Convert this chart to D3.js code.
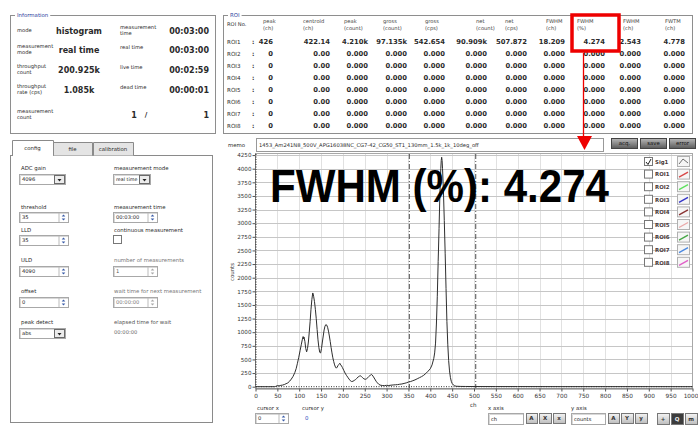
<!DOCTYPE html>
<html><head><meta charset="utf-8">
<script src="https://cdn.jsdelivr.net/npm/d3@7"></script>
<style>
html,body{margin:0;padding:0;background:#fff;overflow:hidden;}
svg{display:block;font-family:"DejaVu Sans",sans-serif;}
</style></head><body>
<svg id="c" width="698" height="428"></svg>
<script>
// ---------------- data ----------------
const channels = [0,10,20,30,40,44,46,50,54,58,
  62,66,70,74,78,82,86,90,93,96,
  99,102,105,107,109,110,111,113,115,117,
  119,121,123,125,127,129,131,132,133,135,
  137,139,141,143,145,147,149,151,153,155,
  157,159,161,163,165,167,169,171,173,175,
  177,179,181,183,185,187,189,191,193,195,
  197,199,202,205,208,211,214,217,220,223,
  226,229,232,235,238,240,242,245,248,251,
  254,257,260,263,265,267,270,273,276,279,
  282,285,290,295,300,305,310,315,320,325,
  330,335,340,345,350,355,360,365,370,375,
  380,385,390,395,400,404,408,410,412,414,
  416,418,420,422,424,425,426,427,428,430,
  432,434,436,438,440,442,444,446,448,450,
  453,456,460,470,480,500,550,600,700,800,
  900,1000];
const counts = [0,0,0,0,0,0,5,20,15,25,
  30,40,55,70,100,140,190,260,330,430,
  540,660,780,860,920,880,910,830,700,640,
  700,820,1000,1200,1420,1600,1720,1700,1660,1560,
  1420,1250,1050,860,720,630,620,700,820,930,
  1040,1110,1140,1130,1090,1020,930,830,720,620,
  530,460,400,360,340,360,390,410,430,400,
  380,350,300,250,210,175,140,110,95,100,
  115,130,155,180,195,200,190,165,145,135,
  145,165,190,215,225,215,180,140,100,70,
  45,30,22,20,25,22,28,32,35,38,
  45,50,60,70,85,95,110,125,145,165,
  185,210,245,285,330,400,520,620,800,1150,
  1650,2300,2900,3550,4000,4150,4210,4150,4000,3600,
  3050,2450,1800,1200,780,480,290,170,100,60,
  30,15,8,5,4,3,2,2,1,1,
  1,0];
const xTickValues = [0,50,100,150,200,250,300,350,400,450,500,550,600,650,700,750,800,850,900,950,1000];
const yTickValues = [0,250,500,750,1000,1250,1500,1750,2000,2250,2500,2750,3000,3250,3500,3750,4000,4250];
const roiBounds = [352, 504];
const cursorPos = [0, 0];

const infoLabels = [["mode"],["measurement","mode"],["throughput","count"],["throughput","rate (cps)"],["measurement","count"]];
const infoValues = ["histogram","real time","200.925k","1.085k",""];
const infoLabels2 = [["measurement","time"],["real time"],["live time"],["dead time"],[]];
const infoValues2 = ["00:03:00","00:03:00","00:02:59","00:00:01","1"];

const roiHeaders = [["peak","(ch)"],["centroid","(ch)"],["peak","(count)"],["gross","(count)"],["gross","(cps)"],["net","(count)"],["net","(cps)"],["FWHM","(ch)"],["FWHM","(%)"],["FWHM","(ch)"],["FWTM","(ch)"]];
const roiNames = ["ROI1","ROI2","ROI3","ROI4","ROI5","ROI6","ROI7","ROI8"];
const roi1Values = ["426","422.14","4.210k","97.135k","542.654","90.909k","507.872","18.209","4.274","2.543","4.778"];
const roiZeroValues = ["0","0.00","0.000","0.000","0.000","0.000","0.000","0.000","0.000","0.000","0.000"];

const legendNames = ["Sig1","ROI1","ROI2","ROI3","ROI4","ROI5","ROI6","ROI7","ROI8"];
const legendColors = ["#333333","#d84848","#5ee05e","#3434c8","#8a3434","#eaa8a8","#48a848","#4a88e0","#e060c8"];

const memoText = "1453_Am241N8_500V_APG16038NC_CG7-42_CG50_ST1_130mm_1.5k_1k_10deg_off";
const fwhmText = "FWHM (%): 4.274";

// ---------------- helpers ----------------
const svg = d3.select('#c');
const defs = svg.append('defs');
const gb = defs.append('linearGradient').attr('id','btn').attr('x1',0).attr('y1',0).attr('x2',0).attr('y2',1);
gb.append('stop').attr('offset','0%').attr('stop-color','#b8b8b8');
gb.append('stop').attr('offset','100%').attr('stop-color','#5a5a5a');
const gi = defs.append('linearGradient').attr('id','ico').attr('x1',0).attr('y1',0).attr('x2',0).attr('y2',1);
gi.append('stop').attr('offset','0%').attr('stop-color','#f4f4f4');
gi.append('stop').attr('offset','100%').attr('stop-color','#bdbdbd');

function txt(g, x, y, s, o = {}) {
  return g.append('text').attr('x', x).attr('y', y).attr('dy', '0.35em').text(s)
    .attr('font-size', o.size || 5.4)
    .attr('font-weight', o.bold ? 'bold' : 'normal')
    .attr('fill', o.fill || '#2a2a2a')
    .attr('text-anchor', o.anchor || 'start')
    .attr('font-family', o.family || null);
}
function groupBox(x, y, w, h, title) {
  svg.append('rect').attr('x', x + .5).attr('y', y + .5).attr('width', w).attr('height', h)
    .attr('fill', 'none').attr('stroke', '#8e8e8e');
  const bg = svg.append('rect').attr('fill', '#fff');
  const t = txt(svg, x + 7, y, title, {fill: '#2b3e9e', size: 5.4});
  const len = t.node().getComputedTextLength();
  bg.attr('x', x + 5).attr('y', y - 3).attr('width', len + 4).attr('height', 6);
}
function inputBox(x, y, w, h, val, kind, o = {}) {
  const g = svg.append('g');
  g.append('rect').attr('x', x + .5).attr('y', y + .5).attr('width', w).attr('height', h)
    .attr('fill', '#fff').attr('stroke', '#a8a8a8');
  g.append('path').attr('d', `M${x+1.5},${y+h}V${y+1.5}H${x+w}`).attr('fill','none').attr('stroke','#d8d8d8');
  txt(g, x + 3, y + h / 2 + .5, val, {size: o.size || 5.2, fill: o.fill || '#222'});
  if (kind === 'drop') {
    const bx = x + w - 11;
    g.append('rect').attr('x', bx + .5).attr('y', y + 1.5).attr('width', 10).attr('height', h - 2)
      .attr('fill', '#ececec').attr('stroke', '#6a6a6a');
    const cx = bx + 5.5, cy = y + h / 2 + 1;
    g.append('path').attr('d', `M${cx-2},${cy-1}L${cx+2},${cy-1}L${cx},${cy+1.5}Z`).attr('fill', '#222');
  } else if (kind === 'spin') {
    const bx = x + w - 9;
    g.append('line').attr('x1', bx).attr('x2', bx).attr('y1', y + 1).attr('y2', y + h).attr('stroke', '#bbb');
    const cx = bx + 4.5, cy = y + h / 2 + .5;
    const col = o.fill ? '#aaa' : '#3a5ca8';
    g.append('path').attr('d', `M${cx-1.8},${cy-1}L${cx+1.8},${cy-1}L${cx},${cy-3}Z`).attr('fill', col);
    g.append('path').attr('d', `M${cx-1.8},${cy+1}L${cx+1.8},${cy+1}L${cx},${cy+3}Z`).attr('fill', col);
  }
  return g;
}
function iconBtn(x, y, w, h, dark, glyph) {
  const g = svg.append('g');
  g.append('rect').attr('x', x + .5).attr('y', y + .5).attr('width', w).attr('height', h)
    .attr('fill', dark ? '#3c3c3c' : 'url(#ico)').attr('stroke', '#777');
  txt(g, x + w / 2, y + h / 2 + .5, glyph, {size: 5.5, anchor: 'middle', fill: dark ? '#eee' : '#333', bold: true});
}

// ---------------- Information panel ----------------
groupBox(10, 15, 205, 118, "Information");
const infoRowY = [31, 50, 70, 90, 115];
infoLabels.forEach((lines, i) => {
  const y0 = infoRowY[i] - (lines.length > 1 ? 4 : 1);
  lines.forEach((l, j) => txt(svg, 17, y0 + j * 6.2, l, {size: 5.2}));
  if (infoValues[i]) txt(svg, 79, infoRowY[i], infoValues[i], {bold: true, size: 8, anchor: 'middle'});
});
infoLabels2.forEach((lines, i) => {
  const y0 = infoRowY[i] - (lines.length > 1 ? 4 : 3);
  lines.forEach((l, j) => txt(svg, 120, y0 + j * 6.2, l, {size: 5.2}));
});
infoValues2.forEach((v, i) => txt(svg, 209, infoRowY[i], v, {bold: true, size: 8, anchor: 'end'}));
txt(svg, 134, infoRowY[4], "1", {bold: true, size: 8, anchor: 'middle'});
txt(svg, 146, infoRowY[4], "/", {bold: true, size: 7, anchor: 'middle'});

// ---------------- ROI panel ----------------
groupBox(223, 15, 469, 118, "ROI");
const hdrX = [263, 303, 344, 383, 425, 476, 505, 546, 577, 623, 665];
const valX = [273, 330, 368, 407, 445, 487, 527, 565, 605, 641, 685];
txt(svg, 227, 24, "ROI No.", {size: 5.2});
roiHeaders.forEach((h, i) => h.forEach((l, j) => txt(svg, hdrX[i], 21.5 + j * 6.5, l, {size: 5.2, fill: '#444'})));
roiNames.forEach((n, r) => {
  const y = 42 + r * 11.95;
  txt(svg, 227, y, n, {size: 5.6});
  txt(svg, 252, y, ":", {size: 6, bold: true});
  const vals = r === 0 ? roi1Values : roiZeroValues;
  vals.forEach((v, i) => txt(svg, valX[i], y, v, {bold: true, size: 6.8, anchor: 'end'}));
});

// ---------------- config panel ----------------
svg.append('rect').attr('x', 10.5).attr('y', 155.5).attr('width', 202).attr('height', 267)
  .attr('fill', '#fff').attr('stroke', '#8a8a8a');
const tabs = [["config", 12, 41, true], ["file", 53, 39, false], ["calibration", 93, 40, false]];
tabs.forEach(([name, x, w, act]) => {
  svg.append('path').attr('d', `M${x+.5},${act?156:155.5}V${act?140.5:142.5}H${x+w+.5}V${act?156:155.5}`)
    .attr('fill', act ? '#fff' : '#e4e4e4').attr('stroke', '#8a8a8a');
  txt(svg, x + w / 2, act ? 148 : 149, name, {size: 5.4, anchor: 'middle'});
});
svg.append('line').attr('x1', 13).attr('x2', 53).attr('y1', 155.5).attr('y2', 155.5).attr('stroke', '#fff').attr('stroke-width', 1.5);

txt(svg, 21, 168, "ADC gain", {size: 5.4});
inputBox(19, 174, 46, 10, "4096", 'drop');
txt(svg, 114, 168, "measurement mode", {size: 5.4});
inputBox(113, 174, 37, 10, "real time", 'drop', {size: 4.8});
txt(svg, 21, 207, "threshold", {size: 5.4});
inputBox(19, 212, 49, 10, "35", 'spin');
txt(svg, 114, 207, "measurement time", {size: 5.4});
inputBox(113, 212, 44, 10, "00:03:00", 'spin');
txt(svg, 21, 230, "LLD", {size: 5.4});
inputBox(19, 235, 49, 10, "35", 'spin');
txt(svg, 114, 230, "continuous measurement", {size: 5.4});
svg.append('rect').attr('x', 113.5).attr('y', 235.5).attr('width', 8).attr('height', 8).attr('fill', '#fff').attr('stroke', '#777');
txt(svg, 21, 260, "ULD", {size: 5.4});
inputBox(19, 266, 49, 10, "4090", 'spin');
txt(svg, 114, 260, "number of measurements", {size: 5.4, fill: '#777'});
inputBox(113, 266, 44, 10, "1", 'spin', {fill: '#555'});
txt(svg, 21, 291, "offset", {size: 5.4});
inputBox(19, 297, 49, 10, "0", 'spin');
txt(svg, 114, 291, "wait time for next measurement", {size: 5.4, fill: '#777'});
inputBox(113, 297, 44, 10, "00:00:00", 'spin', {fill: '#777'});
txt(svg, 21, 322, "peak detect", {size: 5.4});
inputBox(19, 328, 46, 10, "abs", 'drop');
txt(svg, 114, 322, "elapsed time for wait", {size: 5.4, fill: '#555'});
txt(svg, 114, 332, "00:00:00", {size: 5.2, fill: '#666'});

// ---------------- chart header ----------------
txt(svg, 228, 145, "memo", {size: 5.4});
svg.append('rect').attr('x', 256.5).attr('y', 138.5).attr('width', 347).attr('height', 13).attr('fill', '#fff').attr('stroke', '#999');
txt(svg, 259, 145, memoText, {size: 5.2});
[["acq.", 611], ["save", 640], ["error", 669]].forEach(([t, x]) => {
  svg.append('rect').attr('x', x + .5).attr('y', 138.5).attr('width', 26).attr('height', 10).attr('fill', 'url(#btn)').attr('stroke', '#444');
  txt(svg, x + 13.5, 143.5, t, {size: 5.4, anchor: 'middle', fill: '#111'});
});

// ---------------- plot ----------------
const x = d3.scaleLinear().domain([0, 1000]).range([255.5, 692.5]);
const y = d3.scaleLinear().domain([0, 4288]).range([386.7, 153]);
svg.append('rect').attr('x', 255.5).attr('y', 153.5).attr('width', 437).attr('height', 235)
  .attr('fill', '#fff').attr('stroke', '#a8a8a8');
svg.append('g').selectAll('line').data(xTickValues.slice(1, -1)).join('line')
  .attr('x1', d => Math.round(x(d)) + .5).attr('x2', d => Math.round(x(d)) + .5)
  .attr('y1', 154).attr('y2', 388).attr('stroke', '#e1e1e1');
svg.append('g').selectAll('line').data(yTickValues.slice(1)).join('line')
  .attr('y1', d => Math.round(y(d)) + .5).attr('y2', d => Math.round(y(d)) + .5)
  .attr('x1', 256).attr('x2', 692).attr('stroke', '#c6c6c6');

const xAxis = svg.append('g').attr('transform', 'translate(0,388.5)')
  .call(d3.axisBottom(x).tickValues(xTickValues).tickFormat(d3.format('d')).tickSize(3).tickSizeOuter(0));
xAxis.select('.domain').attr('stroke', '#777');
xAxis.selectAll('.tick line').attr('stroke', '#555');
xAxis.selectAll('.tick text').attr('font-size', 5.8).attr('fill', '#333').attr('font-family', '"DejaVu Sans",sans-serif').attr('dy', '0.6em');
xAxis.selectAll('.tick text').filter(d => d === 1000).attr('x', -2);
const yAxis = svg.append('g').attr('transform', 'translate(255,0)')
  .call(d3.axisLeft(y).tickValues(yTickValues).tickFormat(d3.format('d')).tickSize(2.5).tickSizeOuter(0));
yAxis.select('.domain').attr('stroke', '#777');
yAxis.selectAll('.tick line').attr('stroke', '#555');
yAxis.selectAll('.tick text').attr('font-size', 5.6).attr('fill', '#333').attr('font-family', '"DejaVu Sans",sans-serif').attr('x', -3.5);

// cursors (dotted)
svg.append('line').attr('x1', x(cursorPos[0]) + .5).attr('x2', x(cursorPos[0]) + .5).attr('y1', 154).attr('y2', 388)
  .attr('stroke', '#333').attr('stroke-dasharray', '1,1.5');
svg.append('line').attr('y1', y(cursorPos[1])).attr('y2', y(cursorPos[1])).attr('x1', 256).attr('x2', 692)
  .attr('stroke', '#333').attr('stroke-dasharray', '1,1.5');
// ROI bounds
svg.append('g').selectAll('line').data(roiBounds).join('line')
  .attr('x1', d => x(d)).attr('x2', d => x(d)).attr('y1', 154).attr('y2', 388)
  .attr('stroke', '#3a3a3a').attr('stroke-width', 0.9).attr('stroke-dasharray', '5,2,1,2');

// spectrum
const pts = channels.map((c, i) => [c, counts[i]]);
svg.append('path').datum(pts)
  .attr('d', d3.line().x(d => x(d[0])).y(d => y(d[1])))
  .attr('fill', 'none').attr('stroke', '#2e2e2e').attr('stroke-width', 1).attr('stroke-linejoin', 'round');

svg.append('text').attr('transform', 'translate(234,272) rotate(-90)').attr('text-anchor', 'middle')
  .attr('font-size', 5.4).attr('fill', '#333').text("counts");
txt(svg, 470, 405, "ch", {size: 5.6});

// legend
legendNames.forEach((n, i) => {
  const ly = 162 + i * 12.6;
  svg.append('rect').attr('x', 644.5).attr('y', ly - 4.5).attr('width', 8).attr('height', 8)
    .attr('fill', '#fff').attr('stroke', '#777');
  if (i === 0) svg.append('path').attr('d', `M${646},${ly}L${648},${ly+2.5}L${651},${ly-3}`).attr('fill', 'none').attr('stroke', '#222').attr('stroke-width', 1);
  txt(svg, 655, ly, n, {size: 5.4, bold: true, fill: '#4a3a3a'});
  svg.append('rect').attr('x', 677.5).attr('y', ly - 5.5).attr('width', 12).attr('height', 10)
    .attr('fill', '#f6f6f6').attr('stroke', '#b0b0b0');
  if (i === 0) {
    svg.append('path').attr('d', `M${679},${ly+2}L${683},${ly-3}L${688},${ly+1}`).attr('fill', 'none').attr('stroke', legendColors[i]).attr('stroke-width', 0.7);
  } else {
    svg.append('line').attr('x1', 679).attr('y1', ly + 2.5).attr('x2', 688).attr('y2', ly - 2.5)
      .attr('stroke', legendColors[i]).attr('stroke-width', 1.4);
  }
});

// big annotation text
svg.append('text').attr('x', 270).attr('y', 202).text(fwhmText)
  .attr('font-family', '"Liberation Sans", Arial, sans-serif').attr('font-weight', 'bold')
  .attr('font-size', 47).attr('fill', '#000')
  .attr('textLength', 339).attr('lengthAdjust', 'spacingAndGlyphs');

// ---------------- bottom controls ----------------
txt(svg, 257, 408, "cursor x", {size: 5.4});
inputBox(255, 413, 33, 10, "0", 'spin');
txt(svg, 302, 408, "cursor  y", {size: 5.4});
txt(svg, 305, 418, "0", {size: 5.4, fill: '#3050c0'});
txt(svg, 488, 408, "x axis", {size: 5.4});
inputBox(488, 413, 35, 11, "ch", null);
iconBtn(526, 413, 11, 10, false, "A"); iconBtn(539, 413, 12, 10, false, "X"); iconBtn(553, 413, 12, 10, false, "x");
txt(svg, 571, 408, "y axis", {size: 5.4});
inputBox(571, 413, 34, 11, "counts", null);
iconBtn(608, 413, 11, 10, false, "A"); iconBtn(621, 413, 12, 10, false, "Y"); iconBtn(635, 413, 12, 10, false, "y");
iconBtn(657, 413, 12, 11, false, "+"); iconBtn(671, 413, 12, 11, true, "Q"); iconBtn(685, 413, 12, 11, false, "m");

// ---------------- red highlight ----------------
svg.append('rect').attr('x', 572).attr('y', 15).attr('width', 47).attr('height', 36)
  .attr('fill', 'none').attr('stroke', '#ee0000').attr('stroke-width', 3.5);
svg.append('line').attr('x1', 583.5).attr('x2', 583.5).attr('y1', 53).attr('y2', 140).attr('stroke', '#ee0000').attr('stroke-width', 1.3);
svg.append('path').attr('d', 'M577,136L592,136L584.5,150Z').attr('fill', '#ee0000');
</script>
</body></html>
